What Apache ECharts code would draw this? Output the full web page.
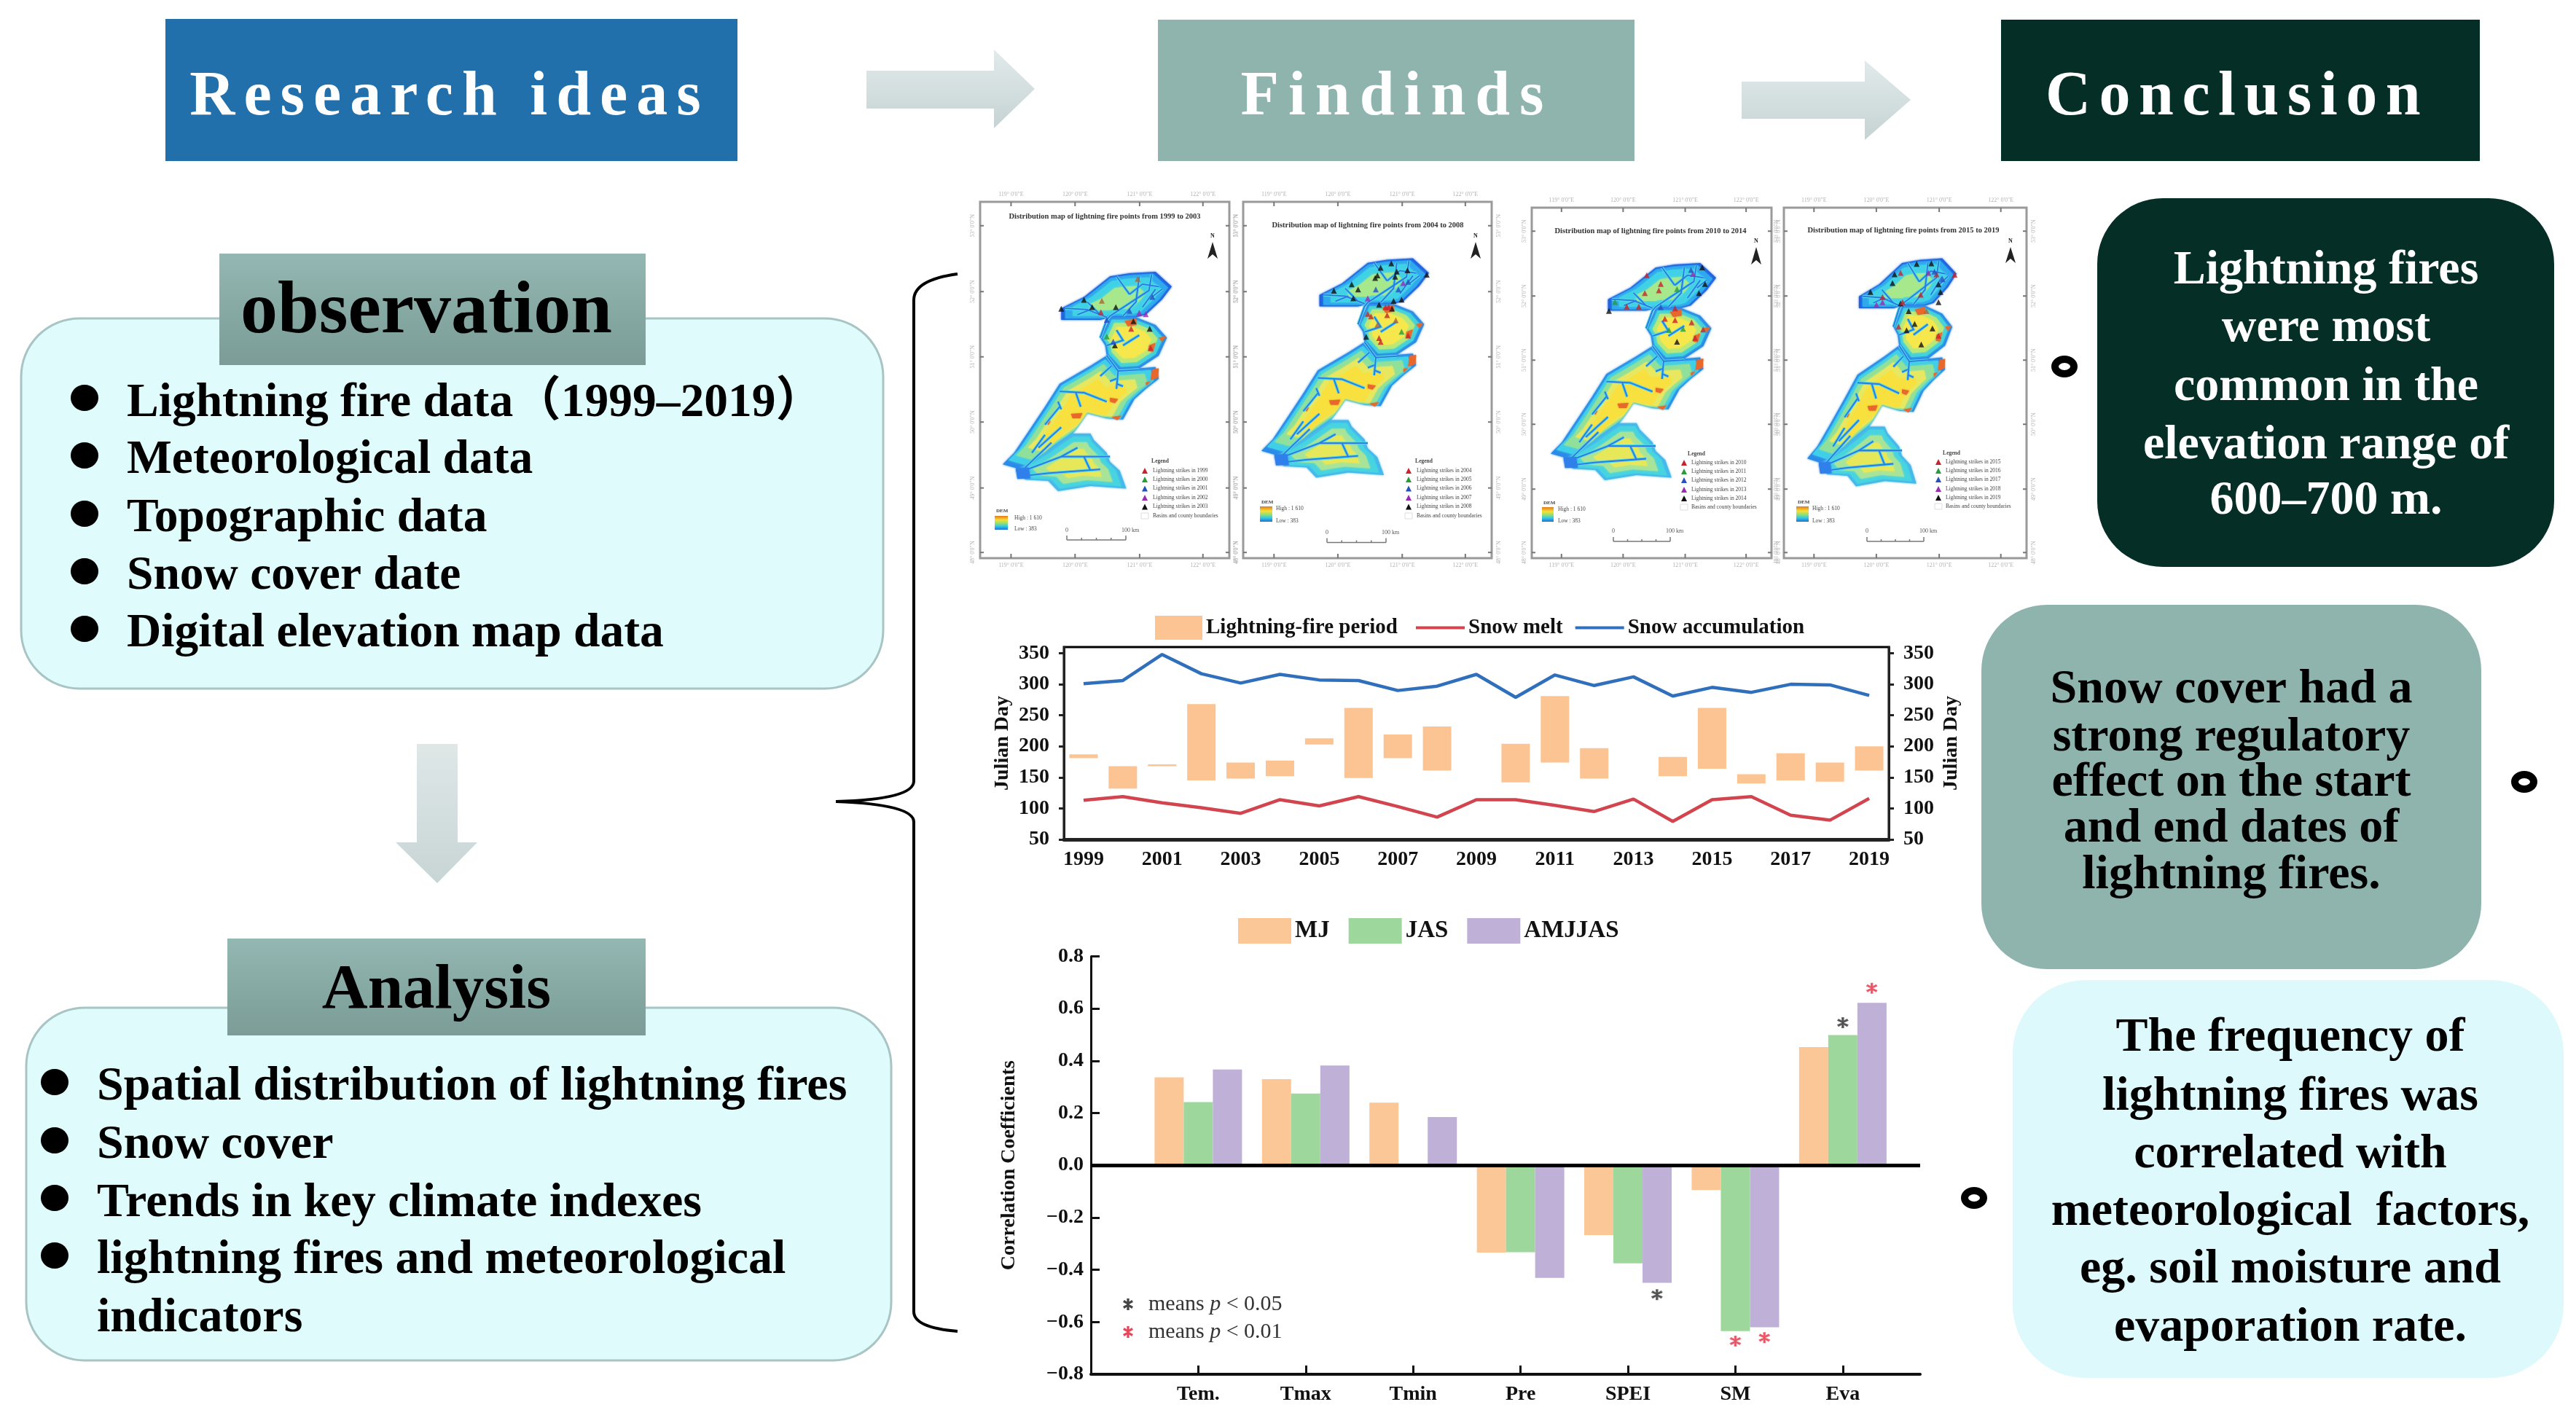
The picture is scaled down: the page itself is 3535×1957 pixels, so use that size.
<!DOCTYPE html>
<html><head><meta charset="utf-8">
<style>html,body{margin:0;padding:0;background:#fff}#c{width:3535px;height:1957px}</style>
<script src="https://cdn.jsdelivr.net/npm/echarts@6/dist/echarts.min.js"></script>
</head><body><div id="c"></div>
<script>
// ---------- chart 1 data (Julian day) ----------
const years = ['1999','2000','2001','2002','2003','2004','2005','2006','2007','2008','2009','2010','2011','2012','2013','2014','2015','2016','2017','2018','2019'];
const snowMelt = [113,119,109,101,92,114,104,119,103,86,114,114,105,95,115,79,114,119,89,81,116];
const snowAccumulation = [301,306,348,317,302,316,307,306,290,297,316,279,315,298,312,281,295,287,300,299,282];
const fireStart = [181,132,168,145,148,152,203,149,181,161,null,142,174,148,null,152,164,140,145,143,161];
const fireEnd   = [187,168,171,268,174,177,213,262,219,232,null,204,281,197,null,183,262,155,189,174,200];
// ---------- chart 2 data (correlation) ----------
const factors = ['Tem.','Tmax','Tmin','Pre','SPEI','SM','Eva'];
const corrMJ = [0.337,0.33,0.24,-0.334,-0.267,-0.095,0.453];
const corrJAS = [0.242,0.275,0,-0.333,-0.375,-0.635,0.499];
const corrAMJJAS = [0.367,0.382,0.185,-0.431,-0.45,-0.62,0.622];
const starsP05 = [[5.27,-0.495],[7,0.546]];
const starsP01 = [[6,-0.673],[6.27,-0.66],[7.27,0.678]];
// ---------- map geometry and fire points (map units) ----------
const regionNorth = [[350,495],[420,450],[500,370],[560,358],[640,352],[690,410],[660,460],[610,520],[580,530],[500,530],[470,540],[350,540]];
const regionMiddle = [[470,610],[490,560],[500,530],[580,530],[640,560],[675,610],[650,680],[590,730],[530,735],[490,680],[485,640]];
const regionCentral = [[170,1105],[205,1060],[245,985],[300,880],[345,790],[440,720],[490,680],[530,735],[590,730],[640,725],[650,770],[610,810],[575,850],[540,930],[490,925],[430,905],[400,960],[385,985],[300,1060],[240,1130]];
const regionSouth = [[210,1130],[300,1060],[385,985],[440,985],[450,1010],[490,1060],[500,1095],[530,1130],[550,1200],[440,1190],[340,1210],[310,1170],[240,1165]];
const mapRegions = [
 {pts:regionNorth,layers:[[1,'#1f63e0'],[.93,'#2fa8ee'],[.8,'#3fd2e6'],[.5,'#a8e88c']]},
 {pts:regionMiddle,layers:[[1,'#2a8ce8'],[.9,'#42d2dc'],[.76,'#b8e878'],[.6,'#f6e84c']]},
 {pts:regionCentral,layers:[[1,'#2a8ce8'],[.93,'#3fcfe8'],[.84,'#8fe09a'],[.7,'#e8e860'],[.55,'#f8e03e']]},
 {pts:regionSouth,layers:[[1,'#46b8ec'],[.9,'#46d4e0'],[.72,'#a8e498'],[.5,'#e6e85a']]}
];
const mapOrange = [
 [[380,908],[415,905],[408,925],[385,925]],[[500,845],[525,850],[515,866],[500,860]],[[630,735],[650,730],[648,765],[625,775]],[[505,920],[535,915],[522,932]],
 [[610,785],[625,780],[612,798]],[[545,545],[580,535],[582,560],[555,565]],[[620,640],[640,630],[632,665],[618,662]],[[650,610],[672,605],[660,625]],[[305,940],[318,935],[310,952]]
];
const mapRivers = [
 [[470,610],[490,540],[500,525],[620,425],[628,362]],[[490,530],[430,500],[362,495]],[[560,440],[600,400],[650,410]],[[520,370],[560,440]],[[430,470],[470,520]],[[590,370],[580,470],[540,525]],[[640,420],[600,490]],[[400,520],[440,500]],[[660,420],[630,450]],
 [[490,640],[540,620],[520,580]],[[590,600],[540,640]],
 [[490,680],[525,740],[520,810]],[[525,740],[590,735]],[[520,770],[500,780]],[[520,790],[540,800]],[[505,720],[470,760]],
 [[345,820],[420,825],[490,860]],[[395,825],[410,880]],[[350,890],[340,860]],[[300,950],[345,880]],[[260,1060],[300,990]],[[280,1040],[350,960]],
 [[225,1135],[350,1075],[500,1075]],[[225,1135],[320,1020]],[[240,1150],[310,1140],[470,1125]],[[350,1075],[400,1040]],[[420,1075],[440,1130]]
];
const mapLake = [[210,1120],[250,1118],[255,1160],[215,1162]];
const fireColors = {red:'#c8232c',green:'#2a9a3a',blue:'#2450c0',purple:'#9a2ab0',black:'#111111',brown:'#a8663a'};
const firesP1 = {black:[[350,497],[420,462],[445,490],[518,490],[622,575],[515,640],[572,545]],red:[[472,510],[565,575],[625,650]],purple:[[590,512],[610,518]],blue:[[560,505],[490,540],[510,625],[630,450]],green:[[490,605]],brown:[[585,380],[475,465]]};
const firesP2 = {black:[[395,479],[450,454],[470,474],[455,509],[540,389],[573,372],[530,419],[523,429],[590,404],[585,424],[623,399],[683,416],[605,514],[580,519],[535,534],[575,549],[495,659]],red:[[555,544],[565,542],[500,569],[510,579],[560,574],[535,664],[540,679],[625,654]],brown:[[587,594],[530,612]],blue:[[595,474],[525,474],[625,444]],purple:[[500,509],[610,449]],green:[[605,639]]};
const firesP3 = {red:[[472,400],[516,435],[466,471],[510,460],[409,524],[447,524],[561,531],[529,572],[561,577],[613,587],[649,615],[624,648]],green:[[372,506],[567,455],[542,617],[586,612]],black:[[646,369],[655,435],[353,541],[636,471],[567,663]],purple:[[617,395]],blue:[[611,379],[516,526]]};
const firesP4 = {black:[[474,412],[551,373],[602,371],[467,445],[627,450],[634,479],[390,479],[523,551],[495,522],[544,599],[516,623],[606,616],[567,676],[627,517]],red:[[565,489],[502,517],[432,498],[627,643],[683,414],[495,407],[488,609],[620,412]],purple:[[411,527],[592,407],[432,517]],blue:[[613,402],[641,431]],brown:[[585,551]]};
const panelYears = [[1999,2003],[2004,2008],[2010,2014],[2015,2019]];
const longitudeLabels = ['119° 0\'0"E','120° 0\'0"E','121° 0\'0"E','122° 0\'0"E'];
const latitudeLabels = ['53° 0\'0"N','52° 0\'0"N','51° 0\'0"N','50° 0\'0"N','49° 0\'0"N','48° 0\'0"N'];
// ---------- panel layout ----------
const panels = [
 {box:[1345,277,342,489],map:[1376,373,232,301],fires:firesP1,title:[1516,297],tri:1571,txt:1582,rows:[646,658,670.5,683,695.5,708],leg:[1592,633],dem:[1365,708,18,19,702,1392],scale:[1464,1545,741,728],north:[1664,332,355]},
 {box:[1706,277,341,489],map:[1731,354.5,230,301],fires:firesP2,title:[1877,309],tri:1933,txt:1944,rows:[646,658,670.5,683,695.5,708],leg:[1954,633],dem:[1729,695,17,21,690,1751],scale:[1821,1902,744.5,731],north:[2025,332,355]},
 {box:[2102,285,329,481],map:[2128,361,227,298],fires:firesP3,title:[2265,317],tri:2311,txt:2321,rows:[635,647,659,672,684,696],leg:[2328,623],dem:[2116,696,16,20,691,2138],scale:[2214,2292,743,729],north:[2410,339,363]},
 {box:[2448,285,333,481],map:[2480,354.5,205,313],fires:firesP4,title:[2612,316],tri:2660,txt:2670,rows:[634,646,658,671,683,695],leg:[2678,622],dem:[2465,695,17,21,690,2487],scale:[2562,2640,743,729],north:[2759,339,361]}
];
const SERIF = '"Liberation Serif","Noto Sans CJK SC",serif';
const spaced = {'Research ideas':12,'Findinds':13,'Conclusion':11.5};
const nativeFill = CanvasRenderingContext2D.prototype.fillText;
CanvasRenderingContext2D.prototype.fillText = function(t,x,y,m){
  if(spaced[t]){this.save();this.letterSpacing=spaced[t]+'px';nativeFill.call(this,t,x,y);this.restore();}
  else if(m===undefined){nativeFill.call(this,t,x,y);} else {nativeFill.call(this,t,x,y,m);}
};
// ---------- helpers for static shapes ----------
const G=[];
const rect=(x,y,w,h,fill,extra={},r=0)=>G.push({type:'rect',shape:{x,y,width:w,height:h,r},style:Object.assign({fill},extra)});
const txt=(s,x,y,font,fill='#000',align='left',rot=0)=>G.push({type:'text',x,y,rotation:rot,style:{text:s,font,fill,align,verticalAlign:'middle',textAlign:align,textVerticalAlign:'middle'}});
const poly=(pts,style)=>G.push({type:'polygon',shape:{points:pts},style});
const line=(x1,y1,x2,y2,stroke,w)=>G.push({type:'line',shape:{x1,y1,x2,y2},style:{stroke,lineWidth:w}});
const ell=(cx,cy,rx,ry,style)=>G.push({type:'ellipse',shape:{cx,cy,rx,ry},style});
const curve=(x1,y1,cx,cy,x2,y2)=>G.push({type:'bezierCurve',shape:{x1,y1,x2,y2,cpx1:cx,cpy1:cy},style:{stroke:'#000',lineWidth:4,fill:'none'}});
const vGrad=(a,b)=>({type:'linear',x:0,y:0,x2:0,y2:1,colorStops:[{offset:0,color:a},{offset:1,color:b}]});
// header boxes
rect(227,26,785,195,'#2170ab');
rect(1589,27,654,194,'#8fb4ae');
rect(2746,27,657,194,'#052f26');
const H='bold 86px '+SERIF;
txt('Research ideas',617,135,H,'#fff','center');
txt('Findinds',1917,135,H,'#fff','center');
txt('Conclusion',3070,135,H,'#fff','center');
// arrows
const arrowFill=vGrad('#e2eaea','#c6d3d3');
poly([[1189,97],[1364,97],[1364,68],[1420,122],[1364,176],[1364,149],[1189,149]],{fill:arrowFill});
poly([[2390,112],[2559,112],[2559,83],[2622,137],[2559,192],[2559,163],[2390,163]],{fill:arrowFill});
poly([[572,1021],[628,1021],[628,1156],[655,1156],[600,1212],[543,1156],[572,1156]],{fill:vGrad('#dfe7e7','#c8d5d5')});
// left boxes
const BF='#dffbfb',BS='#a9c4c4';
rect(29,437,1183,508,BF,{stroke:BS,lineWidth:3},80);
rect(36,1383,1187,484,BF,{stroke:BS,lineWidth:3},80);
rect(301,348,585,153,vGrad('#93b7b2','#7b9c97'));
rect(312,1288,574,133,vGrad('#93b7b2','#7b9c97'));
txt('observation',585,430,'bold 102px '+SERIF,'#000','center');
txt('Analysis',599,1361,'bold 87px '+SERIF,'#000','center');
const B='bold 65.5px '+SERIF;
const obsLines=['Lightning fire data（1999–2019）','Meteorological data','Topographic data','Snow cover date','Digital elevation map data'];
const obsBul=[546,625,705,784,863],obsTxt=[554,632,712,791,870];
obsLines.forEach((s,i)=>{ell(116,obsBul[i],19,18,{fill:'#000'});txt(s,174,obsTxt[i],B);});
const anaLines=['Spatial distribution of lightning fires','Snow cover','Trends in key climate indexes','lightning fires and meteorological','indicators'];
const anaBul=[1485,1565,1644,1723],anaTxt=[1492,1572,1652,1730,1810];
anaLines.forEach((s,i)=>{if(i<4)ell(75,anaBul[i],19,18,{fill:'#000'});txt(s,133,anaTxt[i],'bold 66px '+SERIF);});
// brace
curve(1314,376,1254,384,1254,412);line(1254,412,1254,1072,'#000',4);curve(1254,1072,1254,1097,1147,1100);
curve(1147,1100,1254,1104,1254,1128);line(1254,1128,1254,1800,'#000',4);curve(1254,1800,1254,1822,1314,1827);
// conclusion boxes
rect(2878,272,627,506,'#052f26',{},90);
rect(2719,830,686,500,'#8fb4ae',{},90);
rect(2762,1345,756,546,'#def9fb',{},100);
const C='bold 66px '+SERIF;
['Lightning fires','were most','common in the','elevation range of','600–700 m.'].forEach((s,i)=>txt(s,3192,[372,451,532,612,688][i],C,'#fff','center'));
['Snow cover had a','strong regulatory','effect on the start','and end dates of','lightning fires.'].forEach((s,i)=>txt(s,3062,[947,1013,1075,1138,1202][i],C,'#000','center'));
['The frequency of','lightning fires was','correlated with','meteorological  factors,','eg. soil moisture and','evaporation rate.'].forEach((s,i)=>txt(s,3143,[1425,1506,1585,1664,1743,1823][i],C,'#000','center'));
[[2833,503],[3464,1073],[2709,1644]].forEach(p=>ell(p[0],p[1],13,10,{fill:'#fff',stroke:'#000',lineWidth:10}));
// significance key
G.push({type:'text',x:1576,y:1790,style:{text:'means {i|p} < 0.05',font:'30px '+SERIF,fill:'#333',verticalAlign:'middle',rich:{i:{font:'italic 30px '+SERIF,fill:'#333'}}}});
G.push({type:'text',x:1576,y:1828,style:{text:'means {i|p} < 0.01',font:'30px '+SERIF,fill:'#333',verticalAlign:'middle',rich:{i:{font:'italic 30px '+SERIF,fill:'#333'}}}});
// map panel furniture
const GREY='#9a9a9a',TICK='#b4b4b4';
panels.forEach((p,idx)=>{
  const [x,y,w,h]=p.box;
  rect(x,y,w,h,'#fff',{stroke:GREY,lineWidth:3});
  [.124,.381,.64,.894].forEach((f,i)=>{const X=x+f*w;
    line(X,y,X,y+6,'#777',2);line(X,y+h,X,y+h-6,'#777',2);
    txt(longitudeLabels[i],X,y-10,'8px '+SERIF,TICK,'center');txt(longitudeLabels[i],X,y+h+10,'8px '+SERIF,TICK,'center');});
  [.067,.252,.435,.618,.803,.984].forEach((f,i)=>{const Y=y+f*h;
    line(x,Y,x+5,Y,'#777',2);line(x+w,Y,x+w-5,Y,'#777',2);
    txt(latitudeLabels[i],x-10,Y,'8px '+SERIF,TICK,'center',Math.PI/2);txt(latitudeLabels[i],x+w+10,Y,'8px '+SERIF,TICK,'center',Math.PI/2);});
  txt('Distribution map of lightning fire points from '+panelYears[idx][0]+' to '+panelYears[idx][1],p.title[0],p.title[1],'bold 10.5px '+SERIF,'#333','center');
  // north arrow
  txt('N',p.north[0],p.north[1]-8,'bold 8px '+SERIF,'#222','center');
  poly([[p.north[0],p.north[1]],[p.north[0]+7,p.north[2]],[p.north[0],p.north[2]-6],[p.north[0]-7,p.north[2]]],{fill:'#222'});
  // legend
  txt('Legend',p.leg[0],p.leg[1],'bold 7.5px '+SERIF,'#444','center');
  const cols=[fireColors.red,fireColors.green,fireColors.blue,fireColors.purple,fireColors.black];
  for(let i=0;i<5;i++){const r=p.rows[i];
    poly([[p.tri,r-4],[p.tri+4,r+4],[p.tri-4,r+4]],{fill:cols[i]});
    txt('Lightning strikes in '+(panelYears[idx][0]+i),p.txt,r,'7.5px '+SERIF,'#444');}
  rect(p.tri-5,p.rows[5]-4,10,8,'#fff',{stroke:'#ddd',lineWidth:1});
  txt('Basins and county boundaries',p.txt,p.rows[5],'7.5px '+SERIF,'#444');
  // DEM key
  const d=p.dem;
  rect(d[0],d[1],d[2],d[3],{type:'linear',x:0,y:0,x2:0,y2:1,colorStops:[{offset:0,color:'#e07a20'},{offset:.3,color:'#f8e030'},{offset:.55,color:'#8adf7a'},{offset:.75,color:'#30c8e8'},{offset:1,color:'#2070d8'}]});
  txt('DEM',d[0]+2,d[4]-1,'bold 7px '+SERIF,'#444');
  txt('High : 1 610',d[5],d[1]+3,'7.5px '+SERIF,'#444');
  txt('Low : 383',d[5],d[1]+d[3]-1,'7.5px '+SERIF,'#444');
  // scale bar
  const s=p.scale;
  line(s[0],s[2],s[1],s[2],'#777',1.5);
  for(let i=0;i<=4;i++){const X=s[0]+(s[1]-s[0])*i/4;line(X,s[2],X,s[2]-(i%4?3:6),'#777',1.5);}
  txt('0',s[0],s[3],'8px '+SERIF,'#555','center');
  txt('100 km',s[1]+6,s[3],'8px '+SERIF,'#555','center');
});
// ---------- chart ----------
const asteriskPts=[[45,0],[55,0],[53,38],[85,17],[90,26],[56,44],[56,56],[90,74],[85,83],[53,62],[55,100],[45,100],[47,62],[15,83],[10,74],[44,56],[44,44],[10,26],[15,17],[47,38]];
const asterisk='path://M'+asteriskPts.map(q=>q.join(' ')).join('L')+'Z';
const axisFont={fontFamily:SERIF,fontWeight:'bold',fontSize:28,color:'#111'};
const xAxes=[
 {type:'category',gridIndex:0,data:years,axisLine:{onZero:false,lineStyle:{color:'#222',width:5}},axisTick:{inside:true,length:10,alignWithLabel:true,interval:1,lineStyle:{color:'#222',width:3}},axisLabel:Object.assign({interval:1,margin:14},axisFont)},
 {type:'value',gridIndex:1,min:0,max:7.72,interval:1,splitLine:{show:false},axisLine:{onZero:false,lineStyle:{color:'#111',width:4}},
  axisTick:{inside:true,length:12,customValues:[1,2,3,4,5,6,7],lineStyle:{color:'#111',width:3}},
  axisLabel:Object.assign({margin:14,customValues:[1,2,3,4,5,6,7],formatter:v=>factors[v-1]||''},axisFont)}
];
const yAxes=[
 {type:'value',gridIndex:0,position:'left',min:50,max:360,interval:50,splitLine:{show:false},name:'Julian Day',nameLocation:'middle',nameGap:70,nameTextStyle:axisFont,
  axisLine:{show:true,lineStyle:{color:'#222',width:3}},axisTick:{show:true,length:7,lineStyle:{color:'#222',width:3}},axisLabel:Object.assign({margin:20,showMaxLabel:false,formatter:v=>v>350?'':String(v)},axisFont)},
 {type:'value',gridIndex:0,position:'right',min:50,max:360,interval:50,splitLine:{show:false},name:'Julian Day',nameLocation:'middle',nameGap:72,nameTextStyle:axisFont,
  axisLine:{show:true,lineStyle:{color:'#222',width:3}},axisTick:{show:true,length:7,lineStyle:{color:'#222',width:3}},axisLabel:Object.assign({margin:20,showMaxLabel:false,formatter:v=>v>350?'':String(v)},axisFont)},
 {type:'value',gridIndex:1,min:-0.8,max:0.8,interval:0.2,splitLine:{show:false},name:'Correlation Coefficients',nameLocation:'middle',nameGap:98,nameTextStyle:axisFont,
  axisLine:{show:true,onZero:false,lineStyle:{color:'#111',width:3}},axisTick:{show:true,inside:true,length:12,lineStyle:{color:'#111',width:3}},axisLabel:Object.assign({margin:10,formatter:v=>v.toFixed(1).replace('-','\u2212')},axisFont)}
];
const grids=[{left:1460,top:888,width:1132,height:264,show:true,borderColor:'#000',borderWidth:3,backgroundColor:'transparent'},{left:1497,top:1312.5,width:1138,height:573.5}];
const series=[
 {name:'Lightning-fire period',type:'custom',xAxisIndex:0,yAxisIndex:0,itemStyle:{color:'#fcc493'},encode:{x:0,y:[1,2]},
  data:years.map((y,i)=>[i,fireStart[i],fireEnd[i]]).filter(d=>d[1]!==null),
  renderItem:(params,api)=>{const a=api.coord([api.value(0),api.value(1)]),b=api.coord([api.value(0),api.value(2)]);
    return {type:'rect',shape:{x:a[0]-19.5,y:b[1],width:39,height:a[1]-b[1]},style:{fill:'#fcc493'}};}},
 {name:'Snow melt',type:'line',xAxisIndex:0,yAxisIndex:0,data:snowMelt,symbol:'none',lineStyle:{color:'#d2454f',width:4.5},itemStyle:{color:'#d2454f'}},
 {name:'Snow accumulation',type:'line',xAxisIndex:0,yAxisIndex:0,data:snowAccumulation,symbol:'none',lineStyle:{color:'#2f6fbb',width:4.5},itemStyle:{color:'#2f6fbb'}},
 {name:'MJ',type:'bar',xAxisIndex:1,yAxisIndex:2,barWidth:40,barGap:0,data:corrMJ.map((v,i)=>[i+1,v]),itemStyle:{color:'#fcc796'},
  markLine:{silent:true,symbol:'none',label:{show:false},lineStyle:{color:'#000',width:5,type:'solid'},data:[{yAxis:0}],animation:false}},
 {name:'JAS',type:'bar',xAxisIndex:1,yAxisIndex:2,barWidth:40,barGap:0,data:corrJAS.map((v,i)=>[i+1,v]),itemStyle:{color:'#9dd79c'}},
 {name:'AMJJAS',type:'bar',xAxisIndex:1,yAxisIndex:2,barWidth:40,barGap:0,data:corrAMJJAS.map((v,i)=>[i+1,v]),itemStyle:{color:'#bfb0d8'}},
 {name:'p<0.05',type:'scatter',xAxisIndex:1,yAxisIndex:2,symbol:asterisk,symbolSize:13,data:starsP05,itemStyle:{color:'#444',borderColor:'#444',borderWidth:2}},
 {name:'p<0.01',type:'scatter',xAxisIndex:1,yAxisIndex:2,symbol:asterisk,symbolSize:13,data:starsP01,itemStyle:{color:'#e8475a',borderColor:'#e8475a',borderWidth:2}}
];
// asterisk key marks
poly(asteriskPts.map(q=>[1541+q[0]*.14,1783+q[1]*.14]),{fill:'#444',stroke:'#444',lineWidth:2});
poly(asteriskPts.map(q=>[1541+q[0]*.14,1821+q[1]*.14]),{fill:'#e8475a',stroke:'#e8475a',lineWidth:2});
// map panels: one hidden grid per panel in map units
panels.forEach((p,idx)=>{
  const gi=grids.length;
  grids.push({left:p.map[0],top:p.map[1],width:p.map[2],height:p.map[3]});
  const xi=xAxes.length,yi=yAxes.length;
  xAxes.push({type:'value',gridIndex:gi,min:170,max:690,show:false});
  yAxes.push({type:'value',gridIndex:gi,min:352,max:1210,inverse:true,show:false});
  series.push({type:'custom',name:'map'+idx,xAxisIndex:xi,yAxisIndex:yi,clip:false,silent:true,data:[[170,352]],encode:{x:0,y:1},
    renderItem:(params,api)=>{
      const conv=a=>a.map(q=>api.coord(q));
      const kids=[];
      mapRegions.forEach(r=>{
        const cx=r.pts.reduce((s,q)=>s+q[0],0)/r.pts.length,cy=r.pts.reduce((s,q)=>s+q[1],0)/r.pts.length;
        r.layers.forEach(l=>kids.push({type:'polygon',shape:{points:conv(r.pts.map(q=>[cx+(q[0]-cx)*l[0],cy+(q[1]-cy)*l[0]]))},
          style:{fill:l[1],shadowBlur:3,shadowColor:l[1]}}));
      });
      mapOrange.forEach(a=>kids.push({type:'polygon',shape:{points:conv(a)},style:{fill:'#e8672a',shadowBlur:2,shadowColor:'#e8672a'}}));
      mapRivers.forEach(a=>kids.push({type:'polyline',shape:{points:conv(a)},style:{stroke:'#52d6ea',lineWidth:4,fill:'none'}}));
      mapRivers.forEach(a=>kids.push({type:'polyline',shape:{points:conv(a)},style:{stroke:'#2a78e0',lineWidth:1.8,fill:'none'}}));
      kids.push({type:'polygon',shape:{points:conv(mapLake)},style:{fill:'#2f80ea',shadowBlur:3,shadowColor:'#2f80ea'}});
      return {type:'group',children:kids};
    }});
  Object.keys(p.fires).forEach(k=>series.push({type:'scatter',name:'fires'+idx+k,xAxisIndex:xi,yAxisIndex:yi,symbol:'triangle',symbolSize:8,silent:true,data:p.fires[k],itemStyle:{color:fireColors[k]},z:5}));
});
const legendFont={fontFamily:SERIF,fontWeight:'bold',color:'#111'};
const option={
 animation:false,backgroundColor:'#fff',grid:grids,xAxis:xAxes,yAxis:yAxes,series,graphic:{elements:G},
 legend:[
  {data:['Lightning-fire period'],left:1580,top:840,itemWidth:65,itemHeight:33,icon:'rect',textStyle:Object.assign({fontSize:29},legendFont)},
  {data:['Snow melt','Snow accumulation'],left:1938,top:842,itemWidth:67,itemHeight:4,itemGap:17,icon:'rect',textStyle:Object.assign({fontSize:29},legendFont)},
  {data:['MJ','JAS','AMJJAS'],left:1694,top:1255,itemWidth:73,itemHeight:35,itemGap:26,icon:'rect',textStyle:Object.assign({fontSize:33},legendFont)}
 ]
};
const chart=echarts.init(document.getElementById('c'),null,{renderer:'canvas',devicePixelRatio:1,width:3535,height:1957});
chart.setOption(option);
</script></body></html>
